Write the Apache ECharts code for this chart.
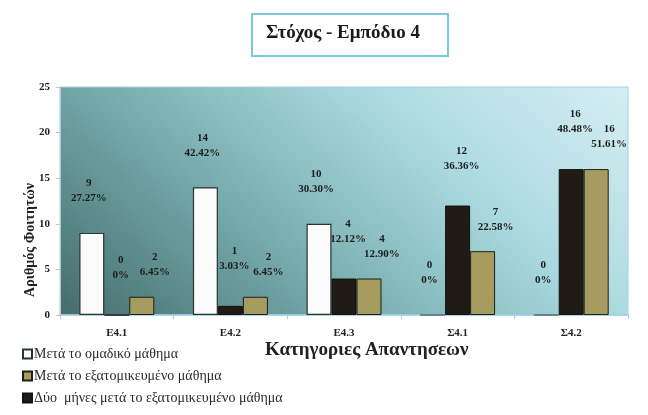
<!DOCTYPE html>
<html>
<head>
<meta charset="utf-8">
<script src="https://cdn.jsdelivr.net/npm/echarts@6/dist/echarts.min.js"></script>
<style>
  html, body { margin: 0; padding: 0; background: #ffffff; }
  #chart { width: 648px; height: 415px; }
</style>
</head>
<body>
<div id="chart"></div>
<script>
// Categories of answers and number of students per phase
var categories = ['Ε4.1', 'Ε4.2', 'Ε4.3', 'Σ4.1', 'Σ4.2'];
var seriesNames = [
  'Μετά το ομαδικό μάθημα',
  'Δύο  μήνες μετά το εξατομικευμένο μάθημα',
  'Μετά το εξατομικευμένο μάθημα'
];
var afterGroup = [9, 14, 10, 0, 0];        // white bars
var twoMonthsLater = [0, 1, 4, 12, 16];    // dark bars
var afterIndividual = [2, 2, 4, 7, 16];    // olive bars
var yTicks = [0, 5, 10, 15, 20, 25];

var SERIF = '"Liberation Serif", "DejaVu Serif", serif';

function sum(a) { return a.reduce(function (s, v) { return s + v; }, 0); }

function makeLabel(values, offset) {
  var total = sum(values);
  return {
    show: true,
    position: 'top',
    offset: offset,
    fontFamily: SERIF,
    fontWeight: 'bold',
    fontSize: 11,
    lineHeight: 15,
    color: '#1b1b1b',
    formatter: function (p) {
      var v = p.value;
      var pct = v === 0 ? '0%' : (v / total * 100).toFixed(2) + '%';
      return v + '\n' + pct;
    }
  };
}

var chart = echarts.init(document.getElementById('chart'), null, { renderer: 'canvas' });

chart.setOption({
  animation: false,
  backgroundColor: '#ffffff',
  grid: {
    left: 60, top: 87, right: 20, bottom: 100,
    show: true,
    borderWidth: 1,
    borderColor: '#a9cfdc',
    // diagonal shading: dark teal in the lower left, pale cyan in the upper right
    backgroundColor: new echarts.graphic.LinearGradient(0, 1, 0.64, -0.8, [
      { offset: 0, color: '#466c6c' },
      { offset: 0.31, color: '#70a3a4' },
      { offset: 0.5, color: '#8ec2c5' },
      { offset: 0.69, color: '#aedbe2' },
      { offset: 1, color: '#d6eef3' }
    ])
  },
  legend: {
    orient: 'vertical',
    left: 17, top: 342,
    icon: 'rect',
    itemWidth: 9, itemHeight: 9, itemGap: 8,
    data: [seriesNames[0], seriesNames[2], seriesNames[1]],
    textStyle: { fontFamily: SERIF, fontSize: 14, lineHeight: 14, color: '#2a2a2a', padding: [0, 0, 0, -3] }
  },
  xAxis: {
    type: 'category',
    data: categories,
    axisLine: { lineStyle: { color: '#9fd0e6', width: 1.5 } },
    axisTick: { show: true, alignWithLabel: false, length: 4, lineStyle: { color: '#9fd0e6' } },
    axisLabel: { margin: 13, fontFamily: SERIF, fontWeight: 'bold', fontSize: 11, color: '#222' }
  },
  yAxis: {
    type: 'value',
    min: 0, max: 25, interval: 5,
    axisLine: { show: true, lineStyle: { color: '#b8c8cc' } },
    axisTick: { show: true, length: 4, lineStyle: { color: '#b8c8cc' } },
    splitLine: { show: false },
    axisLabel: {
      margin: 10, fontFamily: SERIF, fontWeight: 'bold', fontSize: 11, color: '#222',
      formatter: function (v) { return yTicks.indexOf(v) >= 0 ? String(v) : ''; }
    }
  },
  series: [
    {
      name: seriesNames[0], type: 'bar', data: afterGroup,
      barGap: '0%', barCategoryGap: '34%',
      itemStyle: { color: '#fbfbfb', borderColor: '#2b3434', borderWidth: 1.2 },
      label: makeLabel(afterGroup, [-3, -22])
    },
    {
      name: seriesNames[1], type: 'bar', data: twoMonthsLater,
      barGap: '0%', barCategoryGap: '34%',
      itemStyle: { color: '#201c15', borderColor: '#111', borderWidth: 1 },
      label: makeLabel(twoMonthsLater, [4, -27])
    },
    {
      name: seriesNames[2], type: 'bar', data: afterIndividual,
      barGap: '0%', barCategoryGap: '34%',
      itemStyle: { color: '#a69c5f', borderColor: '#1e1e1a', borderWidth: 1 },
      label: makeLabel(afterIndividual, [13, -12])
    }
  ],
  graphic: [
    {
      type: 'rect', left: 251, top: 13,
      shape: { width: 196, height: 42 },
      style: { fill: '#ffffff', stroke: '#7cc6de', lineWidth: 2 }
    },
    {
      type: 'text', left: 266, top: 24,
      style: {
        text: 'Στόχος - Εμπόδιο 4',
        font: 'bold 19px "Liberation Serif", serif',
        fill: '#1a1a1a'
      }
    },
    {
      type: 'text', left: 265, top: 341,
      style: {
        text: 'Κατηγοριες Απαντησεων',
        font: 'bold 19px "Liberation Serif", serif',
        fill: '#222'
      }
    },
    {
      type: 'text', x: 30, y: 240, rotation: Math.PI / 2,
      style: {
        text: 'Αριθμός Φοιτητών',
        font: 'bold 14px "Liberation Serif", serif',
        fill: '#222',
        align: 'center',
        verticalAlign: 'middle'
      }
    }
  ]
});
</script>
</body>
</html>
